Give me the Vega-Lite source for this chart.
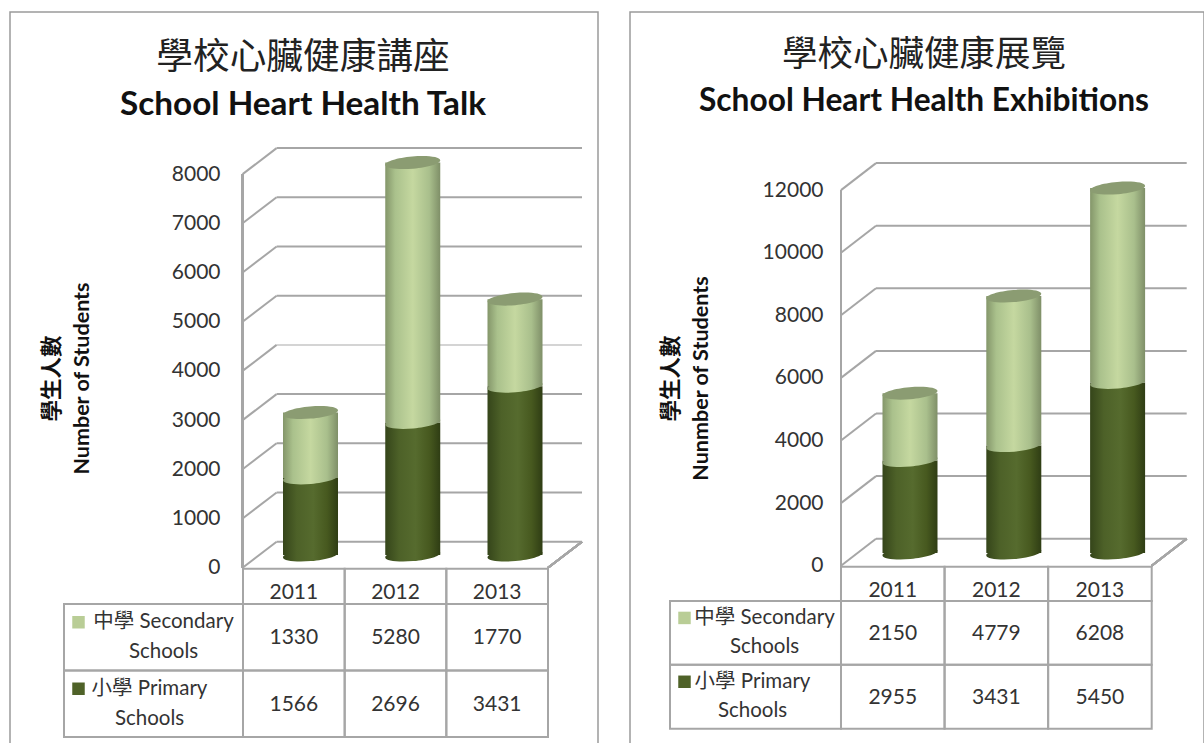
{"$schema":"https://vega.github.io/schema/vega-lite/v6.json","background":"white","padding":{"left":9,"top":11,"right":0,"bottom":0},"spacing":30,"config":{"view":{"stroke":"#9a9a9a","strokeWidth":1.5},"font":"Lato, Noto Sans CJK TC","text":{"font":"Lato, Noto Sans CJK TC"}},
"datasets":{
"talk":[{"year":2011,"school":"Primary","students":1566},{"year":2012,"school":"Primary","students":2696},{"year":2013,"school":"Primary","students":3431},{"year":2011,"school":"Secondary","students":1330},{"year":2012,"school":"Secondary","students":5280},{"year":2013,"school":"Secondary","students":1770}],
"exhib":[{"year":2011,"school":"Primary","students":2955},{"year":2012,"school":"Primary","students":3431},{"year":2013,"school":"Primary","students":5450},{"year":2011,"school":"Secondary","students":2150},{"year":2012,"school":"Secondary","students":4779},{"year":2013,"school":"Secondary","students":6208}],
"labels":[{"school":"Secondary","label":"中學 Secondary\nSchools"},{"school":"Primary","label":"小學 Primary\nSchools"}],
"ticksA":[{"tick":0},{"tick":1000},{"tick":2000},{"tick":3000},{"tick":4000},{"tick":5000},{"tick":6000},{"tick":7000},{"tick":8000}],
"ticksB":[{"tick":0},{"tick":2000},{"tick":4000},{"tick":6000},{"tick":8000},{"tick":10000},{"tick":12000}]},
"hconcat":[
{"width":588,"height":732,
"title":{"text":"學校心臟健康講座","subtitle":"School Heart Health Talk","anchor":"middle","frame":"group","offset":-109,"dx":-1,"font":"Noto Sans CJK TC","fontSize":36.7,"fontWeight":"normal","color":"#222","subtitleFont":"Lato","subtitleFontSize":33.3,"subtitleFontWeight":"bold","subtitleColor":"#111","subtitlePadding":12},
"resolve":{"scale":{"x":"independent","y":"independent"}},
"layer":[
{"data":{"name":"ticksA"},"layer":[
{"mark":{"type":"rule","strokeWidth":2,"xOffset":34,"x2Offset":34,"yOffset":-26,"y2Offset":-26},"encoding":{"x":{"datum":0,"type":"quantitative","scale":{"domain":[0,1],"range":[232.6,538]},"axis":null},"x2":{"datum":1},"y":{"field":"tick","type":"quantitative","scale":{"domain":[-3583,11295],"zero":false,"nice":false},"axis":{"values":[0,1000,2000,3000,4000,5000,6000,7000,8000],"format":"d","offset":-232,"domain":false,"ticks":false,"grid":false,"labelPadding":22,"labelFont":"Lato","labelFontSize":21,"labelColor":"#333","title":["學生人數","Number of Students"],"titleFont":"Lato, Noto Sans CJK TC","titleFontSize":21.5,"titleFontWeight":"bold","titleColor":"#111","titlePadding":78,"titleLineHeight":30}},"y2":{"field":"tick"},"stroke":{"condition":{"test":"datum.tick===4000","value":"#d4d4d4"},"value":"#a6a6a6"}}},
{"mark":{"type":"rule","strokeWidth":2,"stroke":"#a6a6a6","x2Offset":34,"y2Offset":-26},"encoding":{"x":{"datum":0,"type":"quantitative"},"x2":{"datum":0},"y":{"field":"tick","type":"quantitative"},"y2":{"field":"tick"}}},
{"mark":{"type":"rule","strokeWidth":2,"stroke":"#a6a6a6"},"encoding":{"x":{"datum":0,"type":"quantitative"},"y":{"datum":0,"type":"quantitative"},"y2":{"datum":8000}}},
{"mark":{"type":"rule","strokeWidth":2,"stroke":"#a6a6a6","x2Offset":34,"y2Offset":-26},"encoding":{"x":{"datum":1,"type":"quantitative"},"x2":{"datum":1},"y":{"datum":0,"type":"quantitative"},"y2":{"datum":0}}}
]},
{"data":{"name":"talk"},"transform":[{"stack":"students","groupby":["year"],"sort":[{"field":"school"}],"as":["y0","y1"]}],"layer":[
{"transform":[{"filter":"datum.school==='Primary'"}],"mark":{"type":"point","filled":true,"opacity":1,"size":3025,"shape":"M-1,0.087A1,0.22,-5,1,1,1,-0.087A1,0.22,-5,1,1,-1,0.087Z","fill":{"gradient":"linear","x1":0,"x2":1,"y1":0,"y2":0,"stops":[{"offset":0,"color":"#35451a"},{"offset":0.25,"color":"#4d6128"},{"offset":0.55,"color":"#566b2e"},{"offset":0.8,"color":"#47591f"},{"offset":1,"color":"#2f3d14"}]}},"encoding":{"x":{"field":"year","type":"ordinal","scale":{"type":"point","domain":[2011,2012,2013],"range":[300.5,505],"padding":0},"axis":null},"y":{"field":"y0","type":"quantitative","scale":{"domain":[-3841,11037],"zero":false,"nice":false},"axis":null}}},
{"transform":[{"filter":"datum.school==='Primary'"}],"mark":{"type":"bar","width":55,"fill":{"gradient":"linear","x1":0,"x2":1,"y1":0,"y2":0,"stops":[{"offset":0,"color":"#35451a"},{"offset":0.25,"color":"#4d6128"},{"offset":0.55,"color":"#566b2e"},{"offset":0.8,"color":"#47591f"},{"offset":1,"color":"#2f3d14"}]}},"encoding":{"x":{"field":"year","type":"ordinal"},"y":{"field":"y1","type":"quantitative"},"y2":{"field":"y0"}}},
{"transform":[{"filter":"datum.school==='Secondary'"}],"mark":{"type":"point","filled":true,"opacity":1,"size":3025,"shape":"M-1,0.087A1,0.22,-5,1,1,1,-0.087A1,0.22,-5,1,1,-1,0.087Z","fill":{"gradient":"linear","x1":0,"x2":1,"y1":0,"y2":0,"stops":[{"offset":0,"color":"#84966a"},{"offset":0.18,"color":"#aac18c"},{"offset":0.5,"color":"#c5d8a0"},{"offset":0.8,"color":"#a9bf8c"},{"offset":1,"color":"#7f8f68"}]}},"encoding":{"x":{"field":"year","type":"ordinal"},"y":{"field":"y0","type":"quantitative"}}},
{"transform":[{"filter":"datum.school==='Secondary'"}],"mark":{"type":"bar","width":55,"fill":{"gradient":"linear","x1":0,"x2":1,"y1":0,"y2":0,"stops":[{"offset":0,"color":"#84966a"},{"offset":0.18,"color":"#aac18c"},{"offset":0.5,"color":"#c5d8a0"},{"offset":0.8,"color":"#a9bf8c"},{"offset":1,"color":"#7f8f68"}]}},"encoding":{"x":{"field":"year","type":"ordinal"},"y":{"field":"y1","type":"quantitative"},"y2":{"field":"y0"}}},
{"transform":[{"filter":"datum.school==='Secondary'"}],"mark":{"type":"point","filled":true,"opacity":1,"size":3025,"shape":"M-1,0.087A1,0.22,-5,1,1,1,-0.087A1,0.22,-5,1,1,-1,0.087Z","fill":"#8b9c72"},"encoding":{"x":{"field":"year","type":"ordinal"},"y":{"field":"y1","type":"quantitative"}}}
]},
{"data":{"name":"talk"},"transform":[{"filter":"datum.school==='Primary'"}],"layer":[
{"mark":{"type":"rect","fill":"transparent","stroke":"#a6a6a6","strokeWidth":2},"encoding":{"x":{"field":"year","type":"ordinal","scale":{"type":"band","range":[233,538],"paddingInner":0,"paddingOuter":0},"axis":null},"y":{"datum":"h","type":"nominal","scale":{"type":"band","domain":["h"],"range":[556.7,592],"paddingInner":0,"paddingOuter":0},"axis":null}}},
{"mark":{"type":"text","fontSize":21,"font":"Lato","color":"#333","dy":7},"encoding":{"x":{"field":"year","type":"ordinal"},"y":{"datum":"h","type":"nominal"},"text":{"field":"year","type":"ordinal"}}}
]},
{"data":{"name":"talk"},"layer":[
{"mark":{"type":"rect","fill":"transparent","stroke":"#a6a6a6","strokeWidth":2},"encoding":{"x":{"field":"year","type":"ordinal","scale":{"type":"band","range":[233,538],"paddingInner":0,"paddingOuter":0},"axis":null},"y":{"field":"school","type":"nominal","scale":{"type":"band","domain":["Secondary","Primary"],"range":[592,725],"paddingInner":0,"paddingOuter":0},"axis":null}}},
{"mark":{"type":"text","fontSize":21,"font":"Lato","color":"#333","dy":1},"encoding":{"x":{"field":"year","type":"ordinal"},"y":{"field":"school","type":"nominal"},"text":{"field":"students","type":"quantitative","format":"d"}}}
]},
{"data":{"name":"labels"},"encoding":{"x":{"datum":"label","type":"nominal","scale":{"type":"band","domain":["label"],"range":[54,233],"paddingInner":0,"paddingOuter":0},"axis":null},"y":{"field":"school","type":"nominal","scale":{"type":"band","domain":["Secondary","Primary"],"range":[592,725],"paddingInner":0,"paddingOuter":0},"axis":null}},"layer":[
{"mark":{"type":"rect","fill":"transparent","stroke":"#a6a6a6","strokeWidth":2}},
{"transform":[{"filter":"datum.school==='Secondary'"}],"mark":{"type":"text","fontSize":20.5,"font":"Lato, Noto Sans CJK TC","color":"#333","lineBreak":"\n","lineHeight":30,"dx":10,"dy":-15},"encoding":{"text":{"field":"label"}}},
{"transform":[{"filter":"datum.school==='Primary'"}],"mark":{"type":"text","fontSize":20.5,"font":"Lato, Noto Sans CJK TC","color":"#333","lineBreak":"\n","lineHeight":30,"dx":-4,"dy":-15},"encoding":{"text":{"field":"label"}}},
{"transform":[{"filter":"datum.school==='Secondary'"}],"mark":{"type":"point","shape":"square","filled":true,"opacity":1,"size":156,"fill":"#b9cd96","xOffset":-75,"yOffset":-15}},
{"transform":[{"filter":"datum.school==='Primary'"}],"mark":{"type":"point","shape":"square","filled":true,"opacity":1,"size":156,"fill":"#4f6228","xOffset":-75,"yOffset":-15}}
]}
]},
{"width":574,"height":732,
"title":{"text":"學校心臟健康展覽","subtitle":"School Heart Health Exhibitions","anchor":"middle","frame":"group","offset":-106,"dx":7,"font":"Noto Sans CJK TC","fontSize":35.5,"fontWeight":"normal","color":"#222","subtitleFont":"Lato","subtitleFontSize":31.7,"subtitleFontWeight":"bold","subtitleColor":"#111","subtitlePadding":13},
"resolve":{"scale":{"x":"independent","y":"independent"}},
"layer":[
{"data":{"name":"ticksB"},"layer":[
{"mark":{"type":"rule","strokeWidth":2,"stroke":"#a6a6a6","xOffset":35,"x2Offset":35,"yOffset":-27,"y2Offset":-27},"encoding":{"x":{"datum":0,"type":"quantitative","scale":{"domain":[0,1],"range":[211,521.7]},"axis":null},"x2":{"datum":1},"y":{"field":"tick","type":"quantitative","scale":{"domain":[-5697,17690],"zero":false,"nice":false},"axis":{"values":[0,2000,4000,6000,8000,10000,12000],"format":"d","offset":-211,"domain":false,"ticks":false,"grid":false,"labelPadding":18,"labelFont":"Lato","labelFontSize":21,"labelColor":"#333","title":["學生人數","Nunmber of Students"],"titleFont":"Lato, Noto Sans CJK TC","titleFontSize":21.5,"titleFontWeight":"bold","titleColor":"#111","titlePadding":50,"titleLineHeight":30}},"y2":{"field":"tick"}}},
{"mark":{"type":"rule","strokeWidth":2,"stroke":"#a6a6a6","x2Offset":35,"y2Offset":-27},"encoding":{"x":{"datum":0,"type":"quantitative"},"x2":{"datum":0},"y":{"field":"tick","type":"quantitative"},"y2":{"field":"tick"}}},
{"mark":{"type":"rule","strokeWidth":2,"stroke":"#a6a6a6"},"encoding":{"x":{"datum":0,"type":"quantitative"},"y":{"datum":0,"type":"quantitative"},"y2":{"datum":12000}}},
{"mark":{"type":"rule","strokeWidth":2,"stroke":"#a6a6a6","x2Offset":35,"y2Offset":-27},"encoding":{"x":{"datum":1,"type":"quantitative"},"x2":{"datum":1},"y":{"datum":0,"type":"quantitative"},"y2":{"datum":0}}}
]},
{"data":{"name":"exhib"},"transform":[{"stack":"students","groupby":["year"],"sort":[{"field":"school"}],"as":["y0","y1"]}],"layer":[
{"transform":[{"filter":"datum.school==='Primary'"}],"mark":{"type":"point","filled":true,"opacity":1,"size":3025,"shape":"M-1,0.087A1,0.22,-5,1,1,1,-0.087A1,0.22,-5,1,1,-1,0.087Z","fill":{"gradient":"linear","x1":0,"x2":1,"y1":0,"y2":0,"stops":[{"offset":0,"color":"#35451a"},{"offset":0.25,"color":"#4d6128"},{"offset":0.55,"color":"#566b2e"},{"offset":0.8,"color":"#47591f"},{"offset":1,"color":"#2f3d14"}]}},"encoding":{"x":{"field":"year","type":"ordinal","scale":{"type":"point","domain":[2011,2012,2013],"range":[280,487.6],"padding":0},"axis":null},"y":{"field":"y0","type":"quantitative","scale":{"domain":[-6102,17284],"zero":false,"nice":false},"axis":null}}},
{"transform":[{"filter":"datum.school==='Primary'"}],"mark":{"type":"bar","width":55,"fill":{"gradient":"linear","x1":0,"x2":1,"y1":0,"y2":0,"stops":[{"offset":0,"color":"#35451a"},{"offset":0.25,"color":"#4d6128"},{"offset":0.55,"color":"#566b2e"},{"offset":0.8,"color":"#47591f"},{"offset":1,"color":"#2f3d14"}]}},"encoding":{"x":{"field":"year","type":"ordinal"},"y":{"field":"y1","type":"quantitative"},"y2":{"field":"y0"}}},
{"transform":[{"filter":"datum.school==='Secondary'"}],"mark":{"type":"point","filled":true,"opacity":1,"size":3025,"shape":"M-1,0.087A1,0.22,-5,1,1,1,-0.087A1,0.22,-5,1,1,-1,0.087Z","fill":{"gradient":"linear","x1":0,"x2":1,"y1":0,"y2":0,"stops":[{"offset":0,"color":"#84966a"},{"offset":0.18,"color":"#aac18c"},{"offset":0.5,"color":"#c5d8a0"},{"offset":0.8,"color":"#a9bf8c"},{"offset":1,"color":"#7f8f68"}]}},"encoding":{"x":{"field":"year","type":"ordinal"},"y":{"field":"y0","type":"quantitative"}}},
{"transform":[{"filter":"datum.school==='Secondary'"}],"mark":{"type":"bar","width":55,"fill":{"gradient":"linear","x1":0,"x2":1,"y1":0,"y2":0,"stops":[{"offset":0,"color":"#84966a"},{"offset":0.18,"color":"#aac18c"},{"offset":0.5,"color":"#c5d8a0"},{"offset":0.8,"color":"#a9bf8c"},{"offset":1,"color":"#7f8f68"}]}},"encoding":{"x":{"field":"year","type":"ordinal"},"y":{"field":"y1","type":"quantitative"},"y2":{"field":"y0"}}},
{"transform":[{"filter":"datum.school==='Secondary'"}],"mark":{"type":"point","filled":true,"opacity":1,"size":3025,"shape":"M-1,0.087A1,0.22,-5,1,1,1,-0.087A1,0.22,-5,1,1,-1,0.087Z","fill":"#8b9c72"},"encoding":{"x":{"field":"year","type":"ordinal"},"y":{"field":"y1","type":"quantitative"}}}
]},
{"data":{"name":"exhib"},"transform":[{"filter":"datum.school==='Primary'"}],"layer":[
{"mark":{"type":"rect","fill":"transparent","stroke":"#a6a6a6","strokeWidth":2},"encoding":{"x":{"field":"year","type":"ordinal","scale":{"type":"band","range":[211,521.7],"paddingInner":0,"paddingOuter":0},"axis":null},"y":{"datum":"h","type":"nominal","scale":{"type":"band","domain":["h"],"range":[554.7,589],"paddingInner":0,"paddingOuter":0},"axis":null}}},
{"mark":{"type":"text","fontSize":21,"font":"Lato","color":"#333","dy":7},"encoding":{"x":{"field":"year","type":"ordinal"},"y":{"datum":"h","type":"nominal"},"text":{"field":"year","type":"ordinal"}}}
]},
{"data":{"name":"exhib"},"layer":[
{"mark":{"type":"rect","fill":"transparent","stroke":"#a6a6a6","strokeWidth":2},"encoding":{"x":{"field":"year","type":"ordinal","scale":{"type":"band","range":[211,521.7],"paddingInner":0,"paddingOuter":0},"axis":null},"y":{"field":"school","type":"nominal","scale":{"type":"band","domain":["Secondary","Primary"],"range":[589,716.7],"paddingInner":0,"paddingOuter":0},"axis":null}}},
{"mark":{"type":"text","fontSize":21,"font":"Lato","color":"#333","dy":1},"encoding":{"x":{"field":"year","type":"ordinal"},"y":{"field":"school","type":"nominal"},"text":{"field":"students","type":"quantitative","format":"d"}}}
]},
{"data":{"name":"labels"},"encoding":{"x":{"datum":"label","type":"nominal","scale":{"type":"band","domain":["label"],"range":[40,211],"paddingInner":0,"paddingOuter":0},"axis":null},"y":{"field":"school","type":"nominal","scale":{"type":"band","domain":["Secondary","Primary"],"range":[589,716.7],"paddingInner":0,"paddingOuter":0},"axis":null}},"layer":[
{"mark":{"type":"rect","fill":"transparent","stroke":"#a6a6a6","strokeWidth":2}},
{"transform":[{"filter":"datum.school==='Secondary'"}],"mark":{"type":"text","fontSize":20.5,"font":"Lato, Noto Sans CJK TC","color":"#333","lineBreak":"\n","lineHeight":29,"dx":9,"dy":-15},"encoding":{"text":{"field":"label"}}},
{"transform":[{"filter":"datum.school==='Primary'"}],"mark":{"type":"text","fontSize":20.5,"font":"Lato, Noto Sans CJK TC","color":"#333","lineBreak":"\n","lineHeight":29,"dx":-3,"dy":-15},"encoding":{"text":{"field":"label"}}},
{"transform":[{"filter":"datum.school==='Secondary'"}],"mark":{"type":"point","shape":"square","filled":true,"opacity":1,"size":156,"fill":"#b9cd96","xOffset":-71,"yOffset":-15}},
{"transform":[{"filter":"datum.school==='Primary'"}],"mark":{"type":"point","shape":"square","filled":true,"opacity":1,"size":156,"fill":"#4f6228","xOffset":-71,"yOffset":-15}}
]}
]}
]}
